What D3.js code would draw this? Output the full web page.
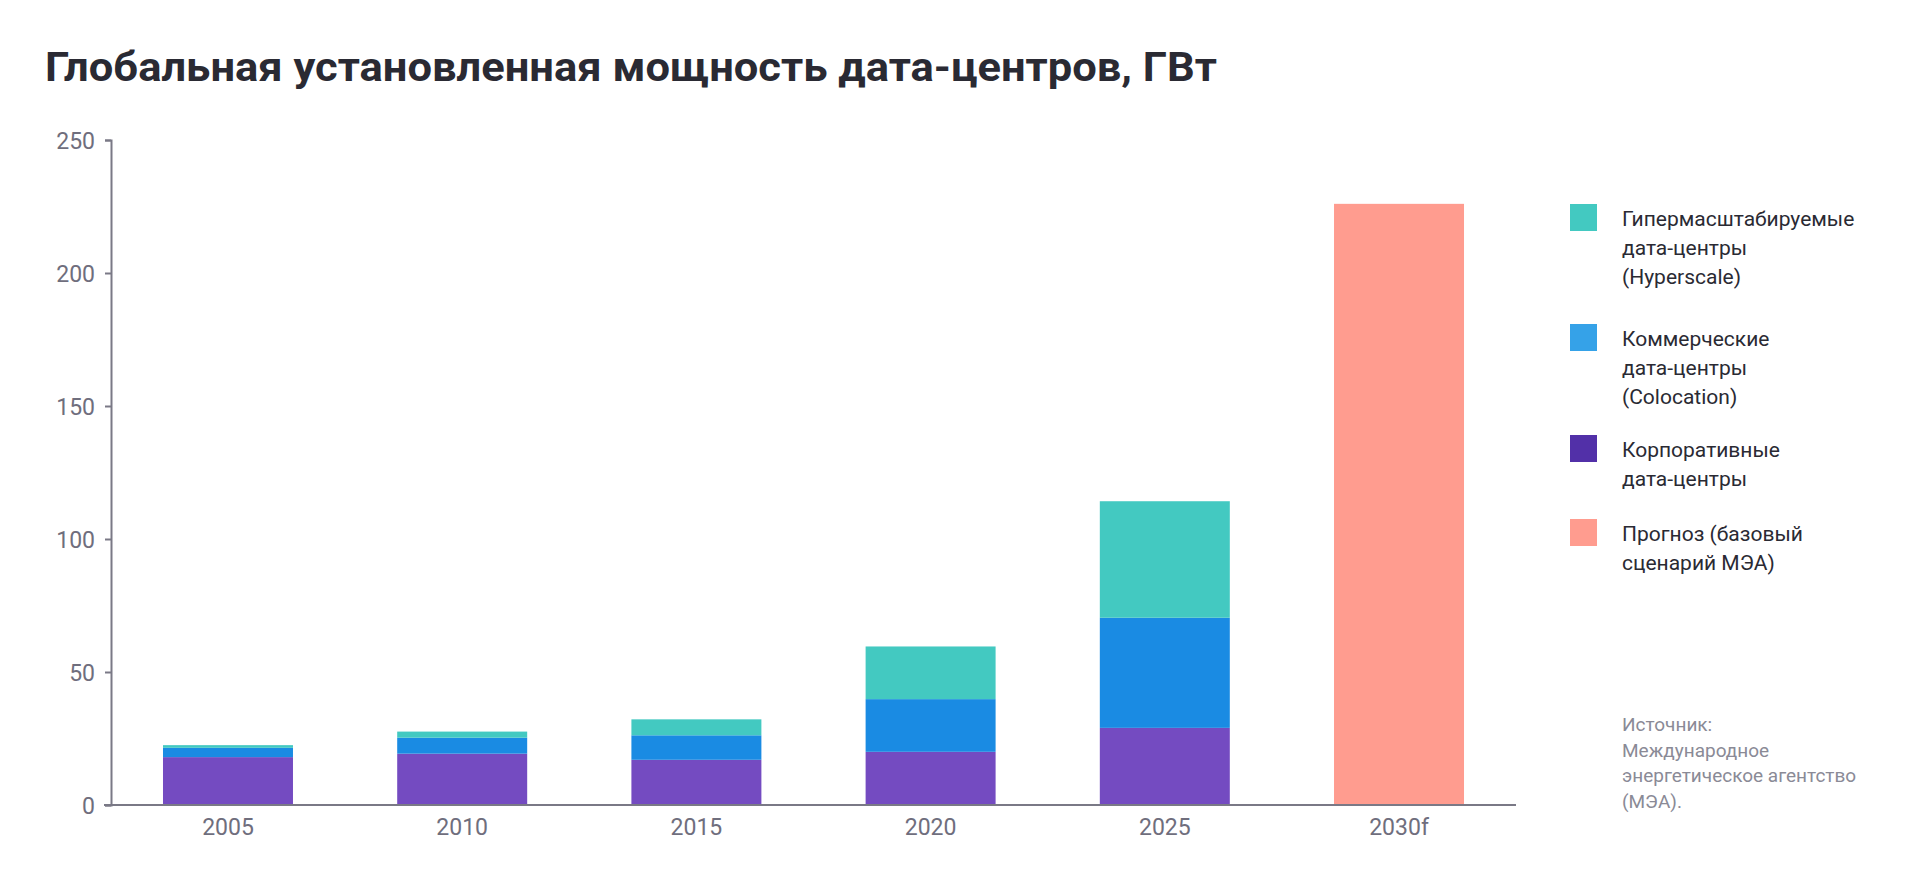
<!DOCTYPE html>
<html><head><meta charset="utf-8">
<script src="https://cdn.jsdelivr.net/npm/d3@7"></script>
<style>body{margin:0;background:#fff;font-family:Roboto,"Open Sans",sans-serif}</style>
</head><body>
<script>
var years = ["2005", "2010", "2015", "2020", "2025", "2030f"];
var corporate = [18, 19.3, 17, 20, 29, 0];
var colocation = [3.5, 6, 9.2, 19.8, 41.4, 0];
var hyperscale = [1, 2.3, 6, 19.8, 43.8, 0];
var forecast = [0, 0, 0, 0, 0, 226];
var yTicks = [0, 50, 100, 150, 200, 250];
var seriesKeys = ["corporate", "colocation", "hyperscale", "forecast"];
var barColors = {corporate: "#744bc1", colocation: "#1a8be3", hyperscale: "#43c9c1", forecast: "#ff9c8f"};
var legendItems = [
  {color: "#43c9c1", lines: ["Гипермасштабируемые", "дата-центры", "(Hyperscale)"], y: 204},
  {color: "#35a2e8", lines: ["Коммерческие", "дата-центры", "(Colocation)"], y: 324},
  {color: "#5230a8", lines: ["Корпоративные", "дата-центры"], y: 435},
  {color: "#ff9c8f", lines: ["Прогноз (базовый", "сценарий МЭА)"], y: 519}
];
var sourceLines = ["Источник:", "Международное", "энергетическое агентство", "(МЭА)."];

var W = 1920, H = 880;
var svg = d3.select("body").append("svg").attr("width", W).attr("height", H);

svg.append("text").attr("x", 45).attr("y", 81)
  .attr("font-size", 40).attr("font-weight", 700).attr("fill", "#2a2a33")
  .attr("textLength", 1172).attr("lengthAdjust", "spacingAndGlyphs")
  .text("Глобальная установленная мощность дата-центров, ГВт");

var x = d3.scaleBand().domain(years).range([111, 1516]).paddingInner(0.445).paddingOuter(0.222);
var y = d3.scaleLinear().domain([0, 250]).range([805, 140]);

var table = years.map(function(yr, i) {
  return {year: yr, corporate: corporate[i], colocation: colocation[i], hyperscale: hyperscale[i], forecast: forecast[i]};
});
var stacked = d3.stack().keys(seriesKeys)(table);

svg.append("g").selectAll("g").data(stacked).join("g")
  .attr("fill", function(d) { return barColors[d.key]; })
  .selectAll("rect").data(function(d) { return d; }).join("rect")
  .attr("x", function(d) { return x(d.data.year); })
  .attr("width", x.bandwidth())
  .attr("y", function(d) { return y(d[1]); })
  .attr("height", function(d) { return y(d[0]) - y(d[1]); });

var axisColor = "#7a7986";
var yAxis = svg.append("g").attr("transform", "translate(111,0)")
  .call(d3.axisLeft(y).tickValues(yTicks).tickSize(6).tickPadding(10));
var xAxis = svg.append("g").attr("transform", "translate(0,805)")
  .call(d3.axisBottom(x).tickSize(0).tickPadding(14).tickSizeOuter(0));
[yAxis, xAxis].forEach(function(a) {
  a.select(".domain").attr("stroke", axisColor).attr("stroke-width", 2);
  a.selectAll(".tick line").attr("stroke", axisColor).attr("stroke-width", 2);
  a.selectAll("text").attr("fill", "#6f6e7d").attr("font-size", 23).attr("font-family", "Roboto");
});
xAxis.select(".domain").attr("d", "M104,0H1516");
yAxis.selectAll(".tick text").attr("dy", "0.35em");

var leg = svg.append("g").selectAll("g").data(legendItems).join("g")
  .attr("transform", function(d) { return "translate(1570," + d.y + ")"; });
leg.append("rect").attr("width", 27).attr("height", 27).attr("fill", function(d) { return d.color; });
leg.append("text").attr("x", 52).attr("y", 22).attr("font-size", 21).attr("fill", "#2a2a33")
  .selectAll("tspan").data(function(d) { return d.lines; }).join("tspan")
  .attr("x", 52).attr("dy", function(d, i) { return i ? 29 : 0; })
  .text(function(d) { return d; });

svg.append("text").attr("x", 1622).attr("y", 731).attr("font-size", 19).attr("fill", "#8a8a96")
  .selectAll("tspan").data(sourceLines).join("tspan")
  .attr("x", 1622).attr("dy", function(d, i) { return i ? 25.5 : 0; })
  .text(function(d) { return d; });
</script>
</body></html>
